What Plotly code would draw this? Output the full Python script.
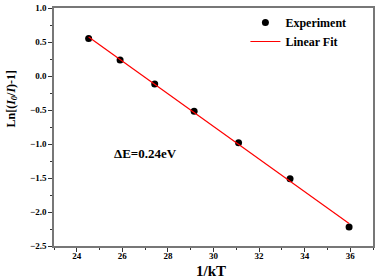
import numpy as np
import plotly.graph_objects as go

inv_kT = [24.52, 25.90, 27.42, 29.15, 31.10, 33.36, 35.95]
ln_val = [0.55, 0.235, -0.118, -0.52, -0.98, -1.51, -2.22]

slope, intercept = np.polyfit(inv_kT, ln_val, 1)
fit_x = [min(inv_kT), max(inv_kT)]
fit_y = [slope * v + intercept for v in fit_x]

FONT = "Liberation Serif, Times New Roman, serif"

fig = go.Figure()
fig.add_trace(go.Scatter(x=inv_kT, y=ln_val, mode="markers", name="<b>Experiment</b>",
                         marker=dict(color="black", size=7)))
fig.add_trace(go.Scatter(x=fit_x, y=fit_y, mode="lines", name="<b>Linear Fit</b>",
                         line=dict(color="red", width=1.2)))

axis_common = dict(showline=True, linecolor="#777", linewidth=1.5, mirror=True,
                   ticks="outside", ticklen=4, tickwidth=1, tickcolor="#333",
                   showgrid=False, zeroline=False,
                   tickfont=dict(family=FONT, size=9, color="black", weight="bold"))

fig.update_xaxes(range=[23, 37], tick0=24, dtick=2, ticklabelstandoff=-4,
                 minor=dict(ticks="outside", ticklen=2.5, dtick=1, tickcolor="#333"),
                 **axis_common)
fig.update_yaxes(range=[-2.5, 1.0], tick0=-2.5, dtick=0.5, tickformat=".1f",
                 minor=dict(ticks="outside", ticklen=2.5, dtick=0.25, tickcolor="#333"),
                 **axis_common)

fig.add_annotation(x=0.492, y=-0.104, xref="paper", yref="paper", text="<b>1/kT</b>",
                   showarrow=False, xanchor="center", yanchor="middle",
                   font=dict(family=FONT, size=15, color="black"))
fig.add_annotation(x=-0.133, y=0.618, xref="paper", yref="paper",
                   text="<b>Ln[(<i>I</i><sub><i>0</i></sub>/<i>I</i>)-1]</b>",
                   showarrow=False, textangle=-90, xanchor="center", yanchor="middle",
                   font=dict(family=FONT, size=12, color="black"))
fig.add_annotation(x=0.287, y=0.3875, xref="paper", yref="paper", text="<b>ΔE=0.24eV</b>",
                   showarrow=False, xanchor="center", yanchor="middle",
                   font=dict(family=FONT, size=13, color="black"))

fig.update_layout(
    width=378, height=280,
    margin=dict(l=54, r=3, t=6, b=34),
    plot_bgcolor="white", paper_bgcolor="white",
    showlegend=True,
    legend=dict(x=0.6, y=1.0, xanchor="left", yanchor="top",
                bgcolor="rgba(0,0,0,0)", font=dict(family=FONT, size=12, color="black"),
                tracegroupgap=0, itemwidth=30),
)

fig.write_html("out.html", config={"displayModeBar": False},
               post_script="document.body.style.margin='0';")
